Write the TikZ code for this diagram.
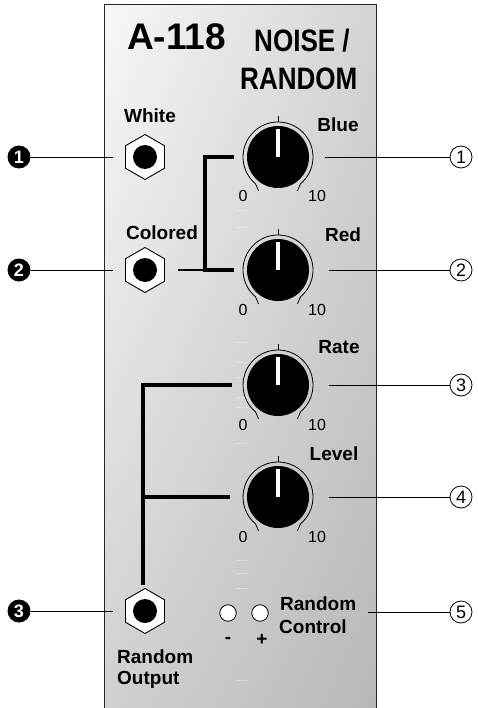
\documentclass[tikz,border=0pt]{standalone}
\usepackage{fontspec}
\setmainfont{Liberation Sans}
\newfontfamily\narrowbold[FakeStretch=0.84]{Liberation Sans Bold}
\usetikzlibrary{shapes.geometric,shadings}
\definecolor{panelA}{HTML}{F8F8F8}
\definecolor{panelB}{HTML}{D4D4D4}
\definecolor{panelC}{HTML}{D0D0D0}
\definecolor{panelD}{HTML}{B8B8B8}
\begin{document}
\begin{tikzpicture}[x=1pt,y=1pt,yscale=-1,
  lbl/.style={font=\bfseries\fontsize{19}{19}\selectfont, inner sep=0},
  num/.style={font=\fontsize{16}{16}\selectfont, inner sep=0, anchor=base},
  lmark/.style={circle, fill=black, text=white, inner sep=0, minimum size=23,
    font=\bfseries\fontsize{18}{18}\selectfont},
  rmark/.style={circle, draw=black, line width=0.8, inner sep=0, minimum size=22,
    font=\fontsize{18}{18}\selectfont},
  jack/.style={regular polygon, regular polygon sides=6, shape border rotate=30,
    minimum size=45, draw=black, fill=white, line width=0.9, inner sep=0},
  led/.style={circle, draw=black, fill=white, line width=0.8, minimum size=16.5, inner sep=0},
  thinline/.style={line width=0.8, draw=black},
  wire/.style={line width=3.2, draw=black},
  faint/.style={line width=0.8, draw=white, opacity=0.35},
  knob/.pic={
    \fill[black] (0,0) circle[radius=31];
    \fill[white] (-2.3,0) rectangle (2.3,28);
    \draw[line width=0.8] (-50:35) arc[start angle=-50, end angle=230, radius=35];
    \draw[line width=0.8] (230:35) -- (240:39);
    \draw[line width=0.8] (-50:35) -- (-60:39);
    \draw[line width=0.8] (90:35) -- (90:41);
  }]
\path[use as bounding box] (0,0) rectangle (478,708);
\begin{scope}
\clip (0,0) rectangle (478,708);
% panel
\shade[upper left=panelA, upper right=panelB, lower left=panelC, lower right=panelD]
  (104.5,4.5) rectangle (376.5,716);
\draw[line width=1.5, draw=black!85] (104.5,716) -- (104.5,4.5) -- (376.5,4.5) -- (376.5,716);
% faint scale marks
\foreach \yy in {210,227,342,362,377,397,407,443,560,573,588,680}
  \draw[faint] (236,\yy) -- (248,\yy);
\end{scope}

% title
\node[anchor=base west, inner sep=0, font=\bfseries\fontsize{37}{37}\selectfont] (title) at (127,50) {A-118};
\node[anchor=base west, inner sep=0, font=\narrowbold\fontsize{31}{31}\selectfont] (noise) at (254,52) {NOISE /};
\node[anchor=base west, inner sep=0, font=\narrowbold\fontsize{31}{31}\selectfont] (random) at (240,90) {RANDOM};

% jacks
\node[jack] (jw) at (145,157) {};
\node[jack] (jc) at (145,270) {};
\node[jack] (jr) at (145,611) {};
\foreach \j in {jw,jc,jr} \fill[black] (\j.center) circle[radius=12];

% jack labels
\node[lbl, anchor=base] (lwhite) at (150,123) {White};
\node[lbl, anchor=base] (lcol) at (162,240) {Colored};
\node[lbl, anchor=base west] (lro1) at (117,663) {Random};
\node[lbl, anchor=base west] (lro2) at (117,684) {Output};

% knobs
\pic at (278,157) {knob};
\pic at (278,270) {knob};
\pic at (278,385) {knob};
\pic at (278,497) {knob};
\node[lbl, anchor=base] (lblue) at (338,132) {Blue};
\node[lbl, anchor=base] (lred) at (343,241) {Red};
\node[lbl, anchor=base] (lrate) at (339,353) {Rate};
\node[lbl, anchor=base] (llevel) at (334,460) {Level};
\foreach \cy/\nm in {202/a,315/b,430/c,542/d}{
  \node[num] (z\nm) at (243,\cy) {0};
  \node[num] (t\nm) at (317,\cy) {10};
}

% random control
\node[led] (ledm) at (228,613) {};
\node[led] (ledp) at (260,613) {};
\node[lbl, anchor=base] (minus) at (228,643) {-};
\node[lbl, anchor=base] (plus) at (262,645) {+};
\node[lbl, anchor=base west] (lrc1) at (280,610) {Random};
\node[lbl, anchor=base west] (lrc2) at (279,633) {Control};

% wires
\coordinate (bt) at (232,157);
\coordinate (bc) at (205,157);
\coordinate (bd) at (205,270);
\coordinate (bb) at (232,270);
\coordinate (cj) at (178,270);
\draw[wire, line cap=rect] (bt) -- (bc) -- (bd) -- (bb);
\draw[line width=2.4] (cj) -- (bd);
\coordinate (rt) at (230,385);
\coordinate (rc) at (143,385);
\coordinate (rb) at (143,583);
\coordinate (lt) at (230,497);
\coordinate (lc) at (143,497);
\draw[wire, line cap=rect] (rt) -- (rc) -- (rb);
\draw[wire] (lc) -- (lt);

% left markers
\node[lmark] (m1) at (19,157) {1};
\node[lmark] (m2) at (19,270) {2};
\node[lmark] (m3) at (19,611) {3};
\coordinate (m1e) at (113,157);
\coordinate (m2e) at (113,270);
\coordinate (m3e) at (113,611);
\draw[thinline] (m1) -- (m1e);
\draw[thinline] (m2) -- (m2e);
\draw[thinline] (m3) -- (m3e);

% right markers
\node[rmark] (n1) at (461,157) {1};
\node[rmark] (n2) at (461,270) {2};
\node[rmark] (n3) at (461,385) {3};
\node[rmark] (n4) at (461,497) {4};
\node[rmark] (n5) at (461,612) {5};
\coordinate (n1s) at (325,157);
\coordinate (n2s) at (329,270);
\coordinate (n3s) at (329,385);
\coordinate (n4s) at (329,497);
\coordinate (n5s) at (368,612);
\draw[thinline] (n1s) -- (n1);
\draw[thinline] (n2s) -- (n2);
\draw[thinline] (n3s) -- (n3);
\draw[thinline] (n4s) -- (n4);
\draw[thinline] (n5s) -- (n5);
\end{tikzpicture}
\end{document}
